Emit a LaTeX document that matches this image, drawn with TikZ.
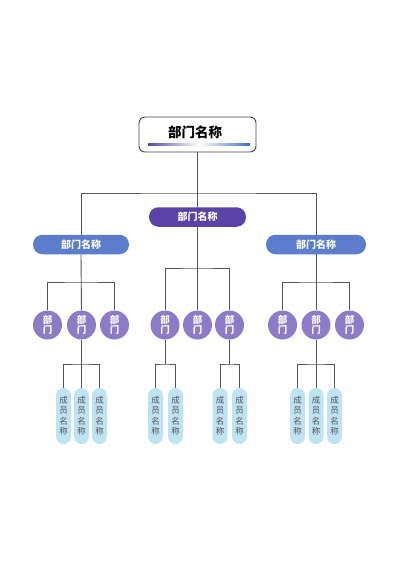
\documentclass[tikz,border=0pt]{standalone}
\usepackage{fontspec}
\setmainfont{Noto Sans CJK SC}
\begin{document}
\begin{tikzpicture}[x=1pt,y=-1pt,
  conn/.style={draw=linegray,line width=0.9pt},
  topbox/.style={draw=boxborder,line width=0.9pt,fill=white,rounded corners=6pt,minimum width=117pt,minimum height=35pt,inner sep=0pt},
  deptpill/.style={rounded corners=9.5pt,minimum height=19.5pt,inner sep=0pt,text=white,font=\fontsize{10}{11}\selectfont\bfseries},
  subcirc/.style={circle,fill=circpurple,minimum size=29pt,inner sep=0pt,text=white,align=center,font=\fontsize{9.5}{10.5}\selectfont\bfseries},
  member/.style={rounded corners=7.5pt,fill=memberblue,minimum width=15pt,minimum height=56pt,inner sep=0pt,text=membertext,align=center,font=\fontsize{8.5}{10.5}\selectfont}
]
\definecolor{linegray}{HTML}{555555}
\definecolor{boxborder}{HTML}{444444}
\definecolor{darkpurple}{HTML}{5A43A8}
\definecolor{deptblue}{HTML}{5B7DCB}
\definecolor{circpurple}{HTML}{8C7CC8}
\definecolor{memberblue}{HTML}{BEE3F2}
\definecolor{membertext}{HTML}{555555}
\definecolor{barblue}{HTML}{3F6FC8}
\useasboundingbox[fill=white] (0,0) rectangle (400,565);

% top
\node[topbox] (top) at (197.5,134.5) {};
\node[font=\fontsize{13.5}{14}\selectfont\bfseries,text=black] (toptxt) at (195,132.5) {部门名称};
\shade[left color=darkpurple,right color=barblue,middle color=white] (148,143) rectangle (250,145.5);

% level 2
\node[deptpill,fill=darkpurple,minimum width=97pt] (cp) at (197.5,217) {部门名称};
\node[deptpill,fill=deptblue,minimum width=96pt] (lp) at (81,244.5) {部门名称};
\node[deptpill,fill=deptblue,minimum width=100pt] (rp) at (316,244.5) {部门名称};

% level 3
\node[subcirc] (l1) at (47.5,325) {部\\门};
\node[subcirc] (l2) at (81.5,325) {部\\门};
\node[subcirc] (l3) at (114.5,325) {部\\门};
\node[subcirc] (c1) at (165,325) {部\\门};
\node[subcirc] (c2) at (197.5,325) {部\\门};
\node[subcirc] (c3) at (229.5,325) {部\\门};
\node[subcirc] (r1) at (282.5,325) {部\\门};
\node[subcirc] (r2) at (316,325) {部\\门};
\node[subcirc] (r3) at (349.5,325) {部\\门};

% level 4
\node[member] (la) at (63.5,416) {成\\员\\名\\称};
\node[member] (lb) at (81.5,416) {成\\员\\名\\称};
\node[member] (lc) at (99.5,416) {成\\员\\名\\称};
\node[member] (ca) at (155.5,416) {成\\员\\名\\称};
\node[member] (cb) at (175.5,416) {成\\员\\名\\称};
\node[member] (cc) at (220,416) {成\\员\\名\\称};
\node[member] (cd) at (239.5,416) {成\\员\\名\\称};
\node[member] (ra) at (297.5,416) {成\\员\\名\\称};
\node[member] (rb) at (316,416) {成\\员\\名\\称};
\node[member] (rc) at (334.5,416) {成\\员\\名\\称};

% junction coordinates
\coordinate (hb) at (197.5,193);
\coordinate (lh) at (81.5,282);
\coordinate (ch) at (197.5,268);
\coordinate (rh) at (316,282);
\coordinate (lm) at (81.5,364);
\coordinate (cm1) at (165,364);
\coordinate (cm3) at (229.5,364);
\coordinate (rm) at (316,364);

% connectors
\draw[conn] (top.south) -- (cp.north);
\draw[conn] (lp.north) |- (hb) -| (rp.north);
\draw[conn] (lp.south) -- (l2.north);
\draw[conn] (l1.north) |- (lh) -| (l3.north);
\draw[conn] (cp.south) -- (c2.north);
\draw[conn] (c1.north) |- (ch) -| (c3.north);
\draw[conn] (rp.south) -- (r2.north);
\draw[conn] (r1.north) |- (rh) -| (r3.north);

\draw[conn] (l2.south) -- (lb.north);
\draw[conn] (la.north) |- (lm) -| (lc.north);
\draw[conn] (c1.south) -- (cm1);
\draw[conn] (ca.north) |- (cm1) -| (cb.north);
\draw[conn] (c3.south) -- (cm3);
\draw[conn] (cc.north) |- (cm3) -| (cd.north);
\draw[conn] (r2.south) -- (rb.north);
\draw[conn] (ra.north) |- (rm) -| (rc.north);
\end{tikzpicture}
\end{document}
